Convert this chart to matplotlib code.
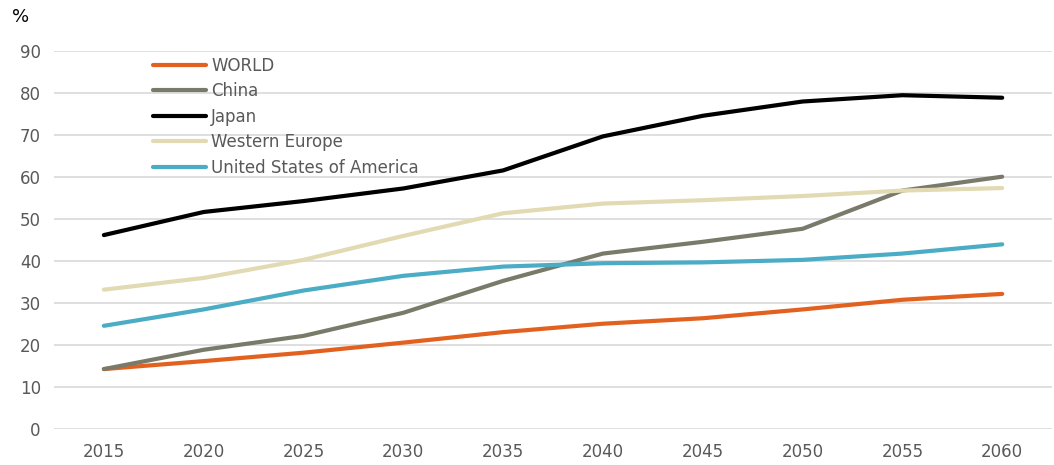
import matplotlib
matplotlib.use("Agg")
import matplotlib.pyplot as plt

plt.rcParams['font.family'] = ['DejaVu Sans']

years = ['2015', '2020', '2025', '2030', '2035', '2040', '2045', '2050', '2055', '2060']

world = [14.2, 16.1, 18.1, 20.5, 23.0, 25.0, 26.3, 28.4, 30.7, 32.1]
china = [14.2, 18.8, 22.1, 27.6, 35.2, 41.7, 44.5, 47.6, 56.7, 60.0]
japan = [46.1, 51.6, 54.2, 57.2, 61.5, 69.6, 74.5, 77.9, 79.4, 78.8]
west_europe = [33.1, 35.9, 40.2, 45.9, 51.3, 53.6, 54.4, 55.4, 56.7, 57.3]
usa = [24.5, 28.4, 32.9, 36.4, 38.6, 39.4, 39.6, 40.2, 41.7, 43.9]

series = [
    ('WORLD', world, '#E2611F'),
    ('China', china, '#7A7A6A'),
    ('Japan', japan, '#000000'),
    ('Western Europe', west_europe, '#E2DAB2'),
    ('United States of America', usa, '#4BACC6'),
]

fig = plt.figure(figsize=(10.54, 4.65), dpi=100)
ax = fig.add_axes([0.0512, 0.078, 0.947, 0.813])

x = list(range(len(years)))
for name, vals, col in series:
    ax.plot(x, vals, color=col, lw=3, label=name, solid_capstyle='round')

ax.set_xlim(-0.5, len(years) - 0.5)
ax.set_ylim(0, 90)
ax.set_yticks(range(0, 91, 10))
ax.set_xticks(x)
ax.set_xticklabels(years)
ax.grid(axis='y', color='#D9D9D9', lw=1.2)
ax.set_axisbelow(True)
for s in ax.spines.values():
    s.set_visible(False)
ax.tick_params(length=0, labelsize=12, labelcolor='#595959')
ax.tick_params(axis='y', pad=9.5)
ax.tick_params(axis='x', pad=10)

fig.text(0.011, 0.963, '%', fontsize=13, color='#000000', va='center', ha='left')

leg = ax.legend(loc='upper left', bbox_to_anchor=(0.0925, 1.002), frameon=False,
                fontsize=12, handlelength=3.2, handletextpad=0.3, labelspacing=0.45,
                borderaxespad=0)
for t in leg.get_texts():
    t.set_color('#595959')

fig.savefig('out.png', dpi=100)
